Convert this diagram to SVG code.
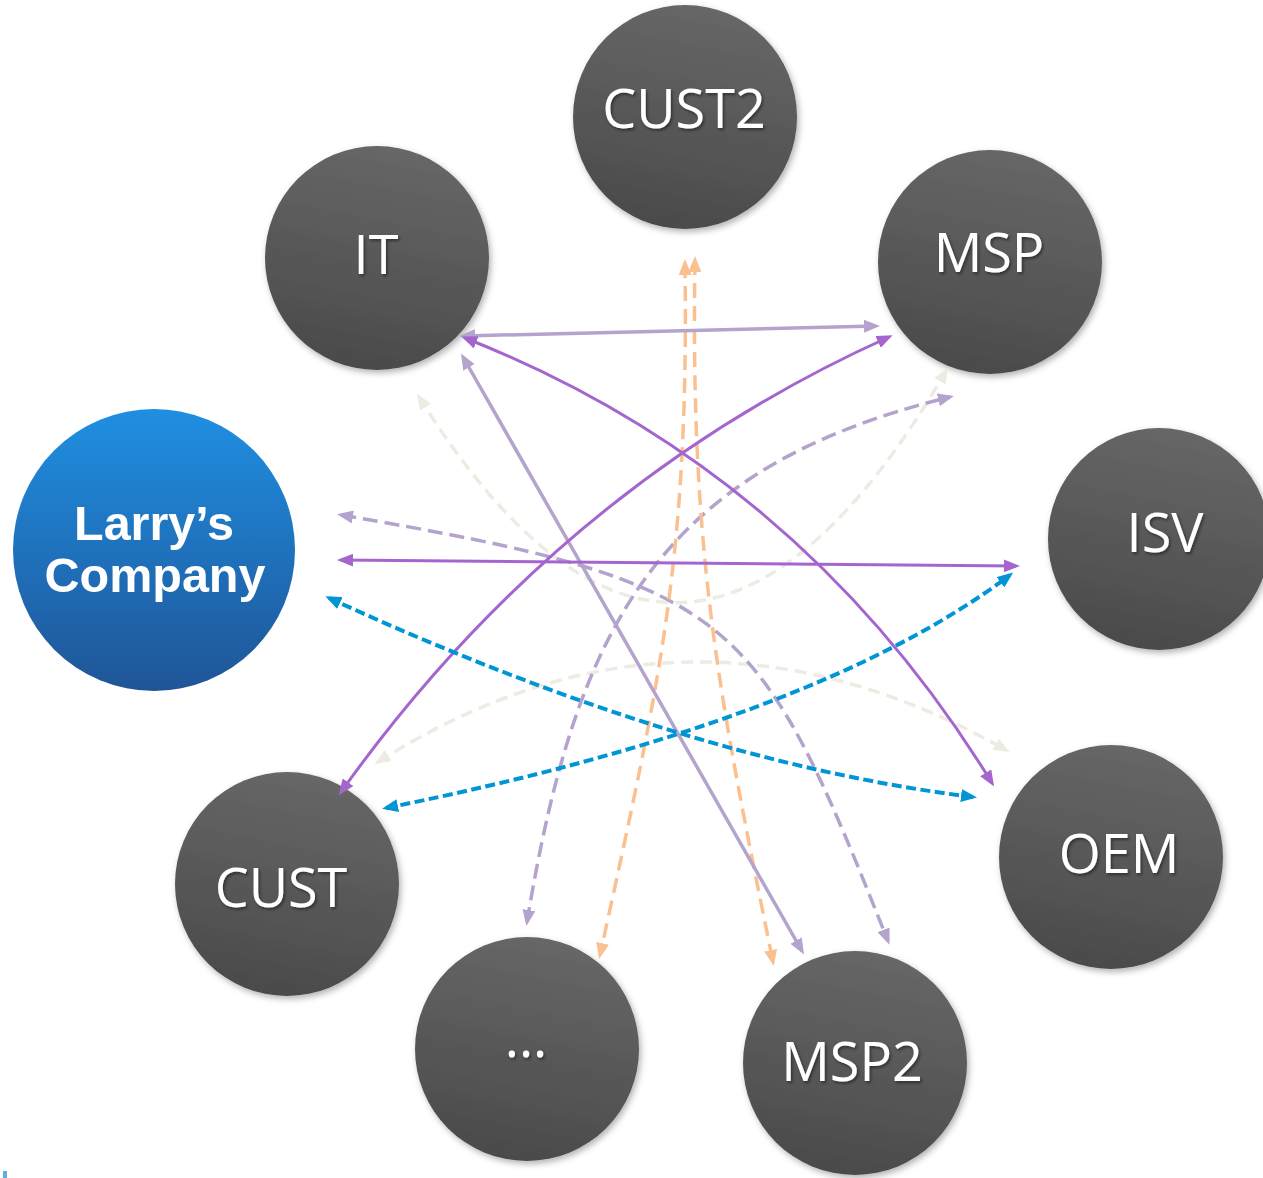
<svg xmlns="http://www.w3.org/2000/svg" width="1263" height="1178" viewBox="0 0 1263 1178">
<style>
.node-label{font-family:"Open Sans","DejaVu Sans",sans-serif;font-size:54px;fill:#ffffff;text-anchor:middle;filter:url(#tshadow)}
.blue-label{font-family:"Liberation Sans",Arial,sans-serif;font-weight:bold;font-size:48.5px;fill:#ffffff;text-anchor:middle}
.c{fill:none;stroke-width:3.5}
.lp{stroke:#B4A3CD}
.pp{stroke:#A466CE;stroke-width:3}
.bl{stroke:#0096D6;stroke-width:4;stroke-dasharray:10 4.5}
.or{stroke:#FBC08F;stroke-dasharray:15 8}
.bg{stroke:#ECECE2;stroke-width:3.5;stroke-dasharray:12 7}
.dash{stroke-dasharray:15 7}
</style>
<defs>
<linearGradient id="gray" x1="0.6" y1="0" x2="0.4" y2="1">
<stop offset="0" stop-color="#676767"/>
<stop offset="1" stop-color="#4a4a4a"/>
</linearGradient>
<linearGradient id="blue" x1="0" y1="0" x2="0" y2="1">
<stop offset="0" stop-color="#1F8FE2"/>
<stop offset="1" stop-color="#1F5597"/>
</linearGradient>
<filter id="shadow" x="-20%" y="-20%" width="140%" height="140%">
<feDropShadow dx="2" dy="3" stdDeviation="3" flood-color="#000" flood-opacity="0.3"/>
</filter>
<filter id="tshadow" x="-10%" y="-20%" width="120%" height="140%">
<feDropShadow dx="1.5" dy="2" stdDeviation="1.5" flood-color="#000" flood-opacity="0.45"/>
</filter>
<marker id="aLP" viewBox="0 0 16 13" markerWidth="16" markerHeight="13" refX="12" refY="6.5" orient="auto-start-reverse" markerUnits="userSpaceOnUse"><path d="M0,0 L16,6.5 L0,13 z" fill="#B4A3CD"/></marker>
<marker id="aPP" viewBox="0 0 16 13" markerWidth="16" markerHeight="13" refX="12" refY="6.5" orient="auto-start-reverse" markerUnits="userSpaceOnUse"><path d="M0,0 L16,6.5 L0,13 z" fill="#A466CE"/></marker>
<marker id="aBL" viewBox="0 0 16 13" markerWidth="16" markerHeight="13" refX="12" refY="6.5" orient="auto-start-reverse" markerUnits="userSpaceOnUse"><path d="M0,0 L16,6.5 L0,13 z" fill="#0096D6"/></marker>
<marker id="aOR" viewBox="0 0 16 13" markerWidth="16" markerHeight="13" refX="12" refY="6.5" orient="auto-start-reverse" markerUnits="userSpaceOnUse"><path d="M0,0 L16,6.5 L0,13 z" fill="#FBC08F"/></marker>
<marker id="aBG" viewBox="0 0 16 13" markerWidth="16" markerHeight="13" refX="12" refY="6.5" orient="auto-start-reverse" markerUnits="userSpaceOnUse"><path d="M0,0 L16,6.5 L0,13 z" fill="#ECECE2"/></marker>
</defs>
<rect width="1263" height="1178" fill="#ffffff"/>

<g id="node-cust2"><circle cx="685" cy="117" r="112" fill="url(#gray)" filter="url(#shadow)"/><text class="node-label" x="684" y="128">CUST2</text></g>
<g id="node-it"><circle cx="377" cy="258" r="112" fill="url(#gray)" filter="url(#shadow)"/><text class="node-label" x="376" y="274">IT</text></g>
<g id="node-msp"><circle cx="990" cy="262" r="112" fill="url(#gray)" filter="url(#shadow)"/><text class="node-label" x="989" y="272">MSP</text></g>
<g id="node-isv"><circle cx="1159" cy="539" r="111" fill="url(#gray)" filter="url(#shadow)"/><text class="node-label" x="1165" y="552">ISV</text></g>
<g id="node-oem"><circle cx="1111" cy="857" r="112" fill="url(#gray)" filter="url(#shadow)"/><text class="node-label" x="1119" y="873">OEM</text></g>
<g id="node-msp2"><circle cx="855" cy="1063" r="112" fill="url(#gray)" filter="url(#shadow)"/><text class="node-label" x="852" y="1081">MSP2</text></g>
<g id="node-more"><circle cx="527" cy="1049" r="112" fill="url(#gray)" filter="url(#shadow)"/><text class="node-label" x="526" y="1057">...</text></g>
<g id="node-cust"><circle cx="287" cy="884" r="112" fill="url(#gray)" filter="url(#shadow)"/><text class="node-label" x="281" y="907">CUST</text></g>
<g id="node-larry"><circle cx="154" cy="550" r="141" fill="url(#blue)"/><text class="blue-label" x="154" y="540">Larry’s</text><text class="blue-label" x="155" y="592">Company</text></g>

<g id="connectors">
<path class="c bg" d="M419,397 Q684,821 946,371" marker-start="url(#aBG)" marker-end="url(#aBG)"/>
<path class="c bg" d="M378,762 Q684,568 1006,750" marker-start="url(#aBG)" marker-end="url(#aBG)"/>
<path class="c lp dash" d="M341,515 C741,583 757,614 888,941" marker-start="url(#aLP)" marker-end="url(#aLP)"/>
<path class="c lp dash" d="M527,922 C576,626 659,468 950,397" marker-start="url(#aLP)" marker-end="url(#aLP)"/>
<path class="c or" d="M685,263 C689,560 660,680 600,955" marker-start="url(#aOR)" marker-end="url(#aOR)"/>
<path class="c or" d="M695,260 C690,560 720,700 773,962" marker-start="url(#aOR)" marker-end="url(#aOR)"/>
<path class="c lp" d="M463,336 L876,326" marker-start="url(#aLP)" marker-end="url(#aLP)"/>
<path class="c lp" d="M463,357 L802,951" marker-start="url(#aLP)" marker-end="url(#aLP)"/>
<path class="c pp" d="M465,338 Q800,470 992,783" marker-start="url(#aPP)" marker-end="url(#aPP)"/>
<path class="c pp" d="M341,792 Q560,485 889,337" marker-start="url(#aPP)" marker-end="url(#aPP)"/>
<path class="c pp" d="M341,560 L1016,566" marker-start="url(#aPP)" marker-end="url(#aPP)"/>
<path class="c bl" d="M329,598 Q686,762 973,797" marker-start="url(#aBL)" marker-end="url(#aBL)"/>
<path class="c bl" d="M386,808 Q815,722 1010,575" marker-start="url(#aBL)" marker-end="url(#aBL)"/>
</g>
<rect x="3" y="1171" width="4" height="7" fill="#5AAEE0"/>
</svg>
